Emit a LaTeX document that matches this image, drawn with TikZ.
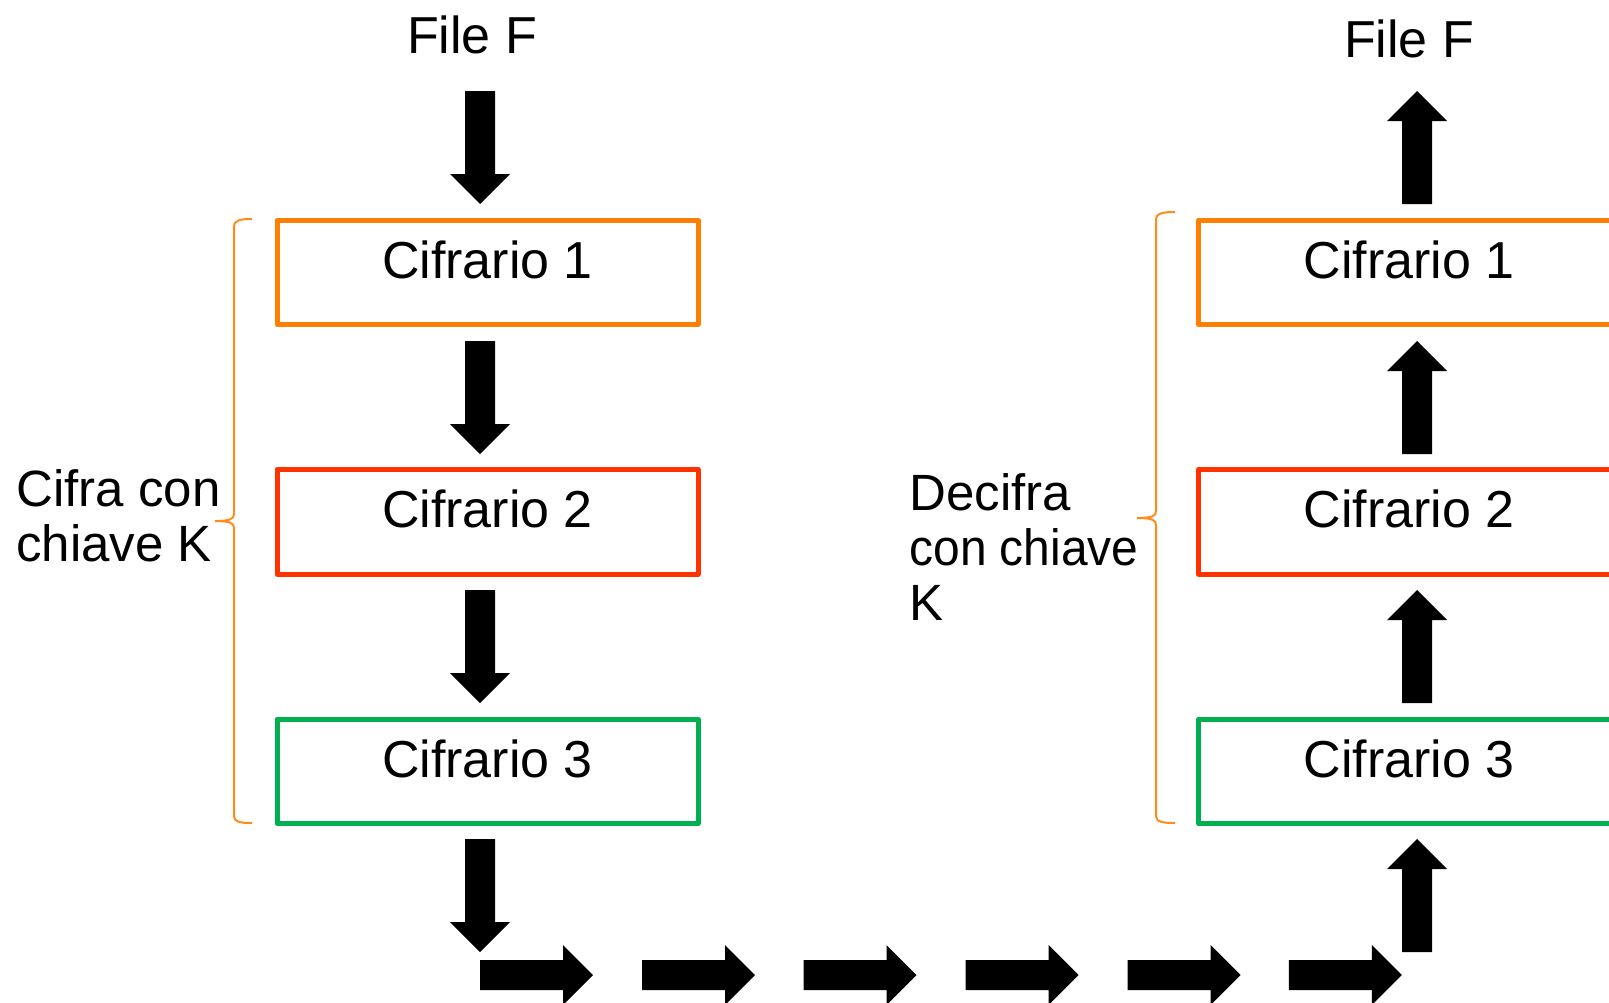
\documentclass[tikz,border=0pt]{standalone}
\usepackage{fontspec}
\setmainfont{Liberation Sans}
\begin{document}
\begin{tikzpicture}[x=0.5pt,y=-0.5pt,
  txt/.style={font=\fontsize{26pt}{28pt}\selectfont, inner sep=0pt, anchor=base},
  lbl/.style={font=\fontsize{25.5pt}{27.5pt}\selectfont, inner sep=0pt, anchor=north west, align=left},
  stage/.style={draw, line width=2.5pt, line join=round, minimum width=210.5pt, minimum height=52.25pt, inner sep=0pt},
  brace/.style={draw=braceorange, line width=1pt},
  pics/blockdown/.style={code={\fill (-15,0) -- (15,0) -- (15,83) -- (30,83) -- (0,113) -- (-30,83) -- (-15,83) -- cycle;}},
  pics/blockup/.style={code={\fill (0,0) -- (30,30) -- (15,30) -- (15,113) -- (-15,113) -- (-15,30) -- (-30,30) -- cycle;}},
  pics/blockright/.style={code={\fill (0,-15) -- (83,-15) -- (83,-30) -- (113,0) -- (83,30) -- (83,15) -- (0,15) -- cycle;}}
]
\definecolor{boxorange}{HTML}{FF8000}
\definecolor{boxred}{HTML}{FF3300}
\definecolor{boxgreen}{HTML}{00B050}
\definecolor{braceorange}{HTML}{FF8C1A}
\useasboundingbox (0,0) rectangle (1609,1002);
\clip (0,0) rectangle (1609,1002);

% --- encryption chain (left) ---
\node[txt] (inF) at (472,53) {File F};
\node[stage, draw=boxorange] (c1) at (487.5,272.25) {};
\node[stage, draw=boxred]    (c2) at (487.5,521.75) {};
\node[stage, draw=boxgreen]  (c3) at (487.5,771.25) {};
\node[txt] (c1t) at ([yshift=-30.25pt]c1.north) {Cifrario 1};
\node[txt] (c2t) at ([yshift=-30.25pt]c2.north) {Cifrario 2};
\node[txt] (c3t) at ([yshift=-30.25pt]c3.north) {Cifrario 3};

\pic at (480,91)  {blockdown};
\pic at (480,341) {blockdown};
\pic at (480,590) {blockdown};
\pic at (480,839) {blockdown};

\draw[brace] (252,219) .. controls (240,219) and (234,220) .. (234,227) -- (234,514)
  .. controls (234,519) and (230,521) .. (215,521)
  .. controls (230,521) and (234,523) .. (234,528) -- (234,816)
  .. controls (234,822) and (240,823) .. (252,823);
\node[lbl] (enc) at (16,469) {Cifra con\\chiave K};

% --- transmission ---
\foreach \xx in {480,642,803.5,965.6,1127.7,1288.8}
  \pic at (\xx,975) {blockright};

% --- decryption chain (right) ---
\node[txt] (outF) at (1409,57) {File F};
\node[stage, draw=boxorange] (d1) at (1409,272.25) {};
\node[stage, draw=boxred]    (d2) at (1409,521.75) {};
\node[stage, draw=boxgreen]  (d3) at (1409,771.25) {};
\node[txt] (d1t) at ([yshift=-30.25pt]d1.north) {Cifrario 1};
\node[txt] (d2t) at ([yshift=-30.25pt]d2.north) {Cifrario 2};
\node[txt] (d3t) at ([yshift=-30.25pt]d3.north) {Cifrario 3};

\pic at (1417,91)  {blockup};
\pic at (1417,341) {blockup};
\pic at (1417,590) {blockup};
\pic at (1417,839) {blockup};

\draw[brace] (1175,212) .. controls (1163,212) and (1156,213) .. (1156,220) -- (1156,511)
  .. controls (1156,516) and (1152,518) .. (1137,518)
  .. controls (1152,518) and (1156,520) .. (1156,525) -- (1156,816)
  .. controls (1156,822) and (1163,823) .. (1175,823);
\node[lbl] (dec) at (909,473) {Decifra\\\scalebox{0.94}[1]{con chiave}\\K};
\end{tikzpicture}
\end{document}
